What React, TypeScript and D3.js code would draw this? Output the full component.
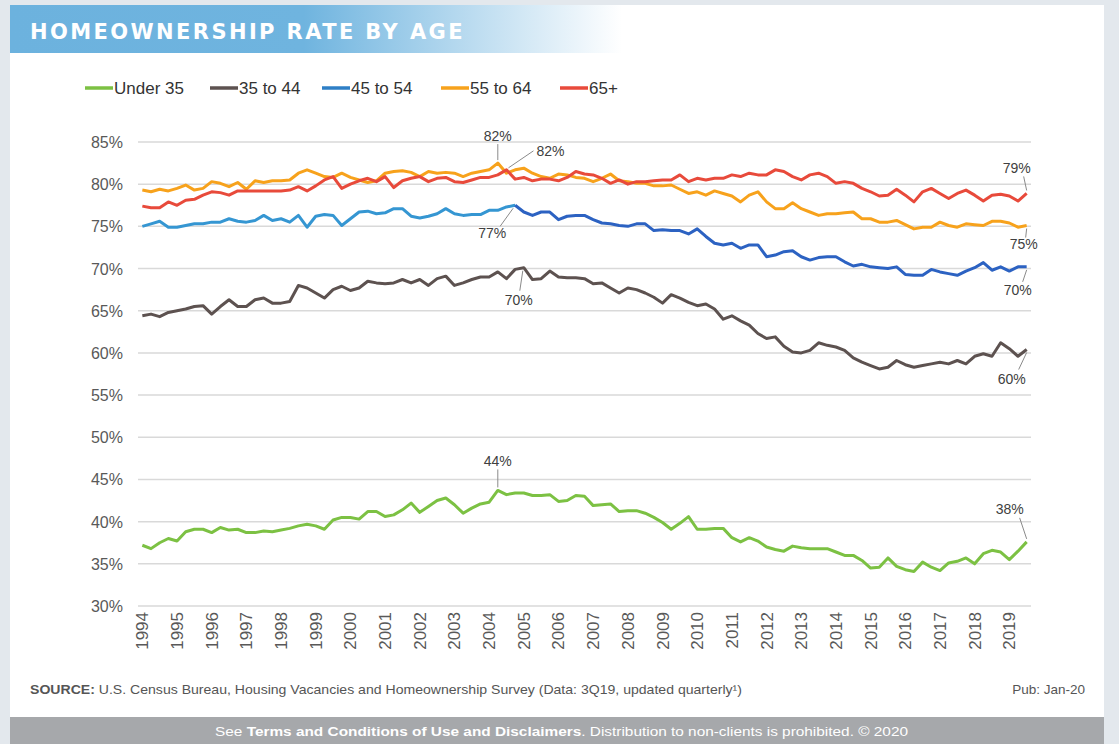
import React from 'react';
import * as d3 from 'd3';

const years = ['1994', '1995', '1996', '1997', '1998', '1999', '2000', '2001', '2002', '2003', '2004', '2005', '2006',
  '2007', '2008', '2009', '2010', '2011', '2012', '2013', '2014', '2015', '2016', '2017', '2018', '2019'];

// quarterly rates, 1994 Q1 .. 2019 Q3
const under35 = [
  37.2, 36.8, 37.5, 38.0, 37.7, 38.8, 39.1, 39.1, 38.7, 39.3,
  39.0, 39.1, 38.7, 38.7, 38.9, 38.8, 39.0, 39.2, 39.5, 39.7,
  39.5, 39.1, 40.2, 40.5, 40.5, 40.3, 41.2, 41.2, 40.6, 40.8,
  41.4, 42.2, 41.1, 41.8, 42.5, 42.8, 42.0, 41.0, 41.6, 42.1,
  42.3, 43.7, 43.2, 43.4, 43.4, 43.1, 43.1, 43.2, 42.4, 42.5,
  43.1, 43.0, 41.9, 42.0, 42.1, 41.2, 41.3, 41.3, 41.0, 40.5,
  39.9, 39.1, 39.8, 40.6, 39.1, 39.1, 39.2, 39.2, 38.1, 37.6,
  38.1, 37.7, 37.0, 36.7, 36.5, 37.1, 36.9, 36.8, 36.8, 36.8,
  36.4, 36.0, 36.0, 35.4, 34.5, 34.6, 35.7, 34.7, 34.3, 34.1,
  35.2, 34.6, 34.2, 35.1, 35.3, 35.7, 35.0, 36.2, 36.6, 36.4,
  35.5, 36.5, 37.6,
];

const age35to44 = [
  64.4, 64.6, 64.3, 64.8, 65.0, 65.2, 65.5, 65.6, 64.6, 65.5,
  66.3, 65.5, 65.5, 66.3, 66.5, 65.9, 65.9, 66.1, 68.0, 67.7,
  67.1, 66.5, 67.5, 67.9, 67.4, 67.7, 68.5, 68.3, 68.2, 68.3,
  68.7, 68.3, 68.7, 68.0, 68.8, 69.1, 68.0, 68.3, 68.7, 69.0,
  69.0, 69.6, 68.8, 69.9, 70.1, 68.7, 68.8, 69.7, 69.0, 68.9,
  68.9, 68.8, 68.2, 68.3, 67.7, 67.1, 67.7, 67.5, 67.1, 66.6,
  65.9, 66.9, 66.5, 66.0, 65.6, 65.8, 65.2, 64.0, 64.4, 63.8,
  63.3, 62.3, 61.7, 61.9, 60.8, 60.1, 60.0, 60.3, 61.2, 60.9,
  60.7, 60.3, 59.4, 58.9, 58.5, 58.1, 58.3, 59.1, 58.6, 58.3,
  58.5, 58.7, 58.9, 58.7, 59.1, 58.7, 59.6, 59.9, 59.6, 61.2,
  60.5, 59.6, 60.4,
];

const age45to54 = [
  75.0, 75.3, 75.6, 74.9, 74.9, 75.1, 75.3, 75.3, 75.5, 75.5,
  75.9, 75.6, 75.5, 75.7, 76.3, 75.7, 75.9, 75.5, 76.3, 74.9,
  76.2, 76.4, 76.3, 75.1, 75.9, 76.7, 76.8, 76.5, 76.6, 77.1,
  77.1, 76.2, 76.0, 76.2, 76.5, 77.1, 76.5, 76.3, 76.4, 76.4,
  76.9, 76.9, 77.3, 77.5, 76.7, 76.3, 76.7, 76.7, 75.8, 76.2,
  76.3, 76.3, 75.8, 75.4, 75.3, 75.1, 75.0, 75.3, 75.3, 74.5,
  74.6, 74.5, 74.5, 74.1, 74.7, 73.8, 73.0, 72.8, 73.0, 72.4,
  72.8, 72.8, 71.4, 71.6, 72.0, 72.1, 71.4, 71.0, 71.3, 71.4,
  71.4, 70.8, 70.3, 70.5, 70.2, 70.1, 70.0, 70.2, 69.3, 69.2,
  69.2, 69.9, 69.6, 69.4, 69.2, 69.7, 70.1, 70.7, 69.8, 70.2,
  69.7, 70.2, 70.2,
];

const age55to64 = [
  79.3, 79.1, 79.4, 79.2, 79.5, 79.9, 79.3, 79.5, 80.3, 80.1,
  79.7, 80.2, 79.4, 80.4, 80.2, 80.4, 80.4, 80.5, 81.3, 81.7,
  81.3, 80.9, 80.8, 81.3, 80.8, 80.5, 80.2, 80.4, 81.3, 81.5,
  81.6, 81.4, 80.9, 81.5, 81.3, 81.4, 81.3, 80.9, 81.3, 81.5,
  81.7, 82.5, 81.3, 81.7, 81.9, 81.3, 80.9, 80.7, 81.2, 81.1,
  80.8, 80.7, 80.3, 80.7, 81.2, 80.4, 80.3, 80.1, 80.1, 79.8,
  79.8, 79.9, 79.4, 78.9, 79.1, 78.7, 79.2, 78.9, 78.6, 77.9,
  78.7, 79.1, 77.9, 77.1, 77.1, 77.8, 77.1, 76.7, 76.3, 76.5,
  76.5, 76.6, 76.7, 75.9, 75.9, 75.5, 75.5, 75.7, 75.2, 74.7,
  74.9, 74.9, 75.5, 75.1, 74.9, 75.3, 75.2, 75.1, 75.6, 75.6,
  75.4, 74.9, 75.1,
];

const age65plus = [
  77.4, 77.2, 77.2, 77.9, 77.5, 78.1, 78.2, 78.7, 79.1, 79.0,
  78.7, 79.2, 79.2, 79.2, 79.2, 79.2, 79.2, 79.3, 79.7, 79.2,
  79.8, 80.5, 80.9, 79.5, 80.0, 80.4, 80.7, 80.3, 80.9, 79.6,
  80.4, 80.7, 80.9, 80.3, 80.7, 80.8, 80.3, 80.2, 80.5, 80.8,
  80.8, 81.1, 81.7, 80.6, 80.8, 80.4, 80.6, 80.6, 80.4, 80.8,
  81.5, 81.2, 81.1, 80.7, 80.1, 80.5, 80.0, 80.3, 80.3, 80.4,
  80.5, 80.5, 81.1, 80.3, 80.7, 80.5, 80.7, 80.7, 81.1, 80.9,
  81.3, 81.1, 81.1, 81.7, 81.5, 80.9, 80.5, 81.1, 81.3, 80.9,
  80.1, 80.3, 80.1, 79.5, 79.1, 78.6, 78.7, 79.4, 78.7, 77.9,
  79.1, 79.5, 78.9, 78.3, 78.9, 79.3, 78.7, 78.0, 78.7, 78.8,
  78.6, 78.0, 78.9,
];

const yTicks = [30, 35, 40, 45, 50, 55, 60, 65, 70, 75, 80, 85];

const series = [
  { key: 'u35', name: 'Under 35', values: under35, color: '#7cc143' },
  { key: 'a35', name: '35 to 44', values: age35to44, color: '#5d5250' },
  { key: 'a45', name: '45 to 54', values: age45to54, color: '#2e7fc6' },
  { key: 'a55', name: '55 to 64', values: age55to64, color: '#f7a21c' },
  { key: 'a65', name: '65+', values: age65plus, color: '#e84a3b' },
];

// callouts: which series, which quarter, text; offsets are layout
const callouts = [
  { key: 'a55', idx: 41, text: '82%', tx: 0, ty: -22, anchor: 'middle', l: [0, -19, 0, -3] },
  { key: 'a65', idx: 42, text: '82%', tx: 30, ty: -14, anchor: 'start', l: [27, -19, 2, -2] },
  { key: 'a45', idx: 43, text: '77%', tx: -23, ty: 33, anchor: 'middle', l: [-15, 21, -2, 3] },
  { key: 'a35', idx: 44, text: '70%', tx: -5, ty: 37, anchor: 'middle', l: [-4, 23, -1, 3] },
  { key: 'u35', idx: 41, text: '44%', tx: 0, ty: -24, anchor: 'middle', l: [0, -21, 0, -3] },
  { key: 'a65', idx: 102, text: '79%', tx: -10, ty: -20, anchor: 'middle', l: [-3, -17, 0, -3] },
  { key: 'a55', idx: 102, text: '75%', tx: -3, ty: 23, anchor: 'middle', l: [0, 3, -1, 12] },
  { key: 'a45', idx: 102, text: '70%', tx: -9, ty: 28, anchor: 'middle', l: [0, 3, -4, 15] },
  { key: 'a35', idx: 102, text: '60%', tx: -15, ty: 34, anchor: 'middle', l: [0, 3, -8, 20] },
  { key: 'u35', idx: 102, text: '38%', tx: -17, ty: -28, anchor: 'middle', l: [-7, -24, 0, -3] },
];

const W = 1119;
const H = 744;
const plot = { left: 138, right: 1031, top: 142, bottom: 606 };
const font = '"Liberation Sans", Arial, sans-serif';
const condensed = '"Liberation Sans Narrow", "Liberation Sans", sans-serif';

export default function App() {
  const idx = d3.range(under35.length);
  const x = d3.scaleBand<number>().domain(idx).range([plot.left, plot.right]);
  const cx = (i: number) => (x(i) as number) + x.bandwidth() / 2;
  const y = d3.scaleLinear().domain([30, 85]).range([plot.bottom, plot.top]);
  const line = d3.line<number>().x((_, i) => cx(i)).y(d => y(d));
  const lineFrom = (start: number) => d3.line<number>().x((_, i) => cx(i + start)).y(d => y(d));

  const legendX = [85, 210, 322, 441, 560];

  return (
    <svg width={W} height={H} style={{ position: 'absolute', left: 0, top: 0, display: 'block' }} fontFamily={font}>
      <defs>
        <linearGradient id="banner" x1="0" x2="1" y1="0" y2="0">
          <stop offset="0%" stopColor="#6cb2de" />
          <stop offset="48%" stopColor="#6fb4df" />
          <stop offset="100%" stopColor="#ffffff" />
        </linearGradient>
      </defs>
      <rect width={W} height={H} fill="#e3e8ed" />
      <rect x={10} y={5} width={1094} height={712} fill="#ffffff" />
      <rect x={10} y={5} width={612} height={48} fill="url(#banner)" />
      <text x={30} y={39} fill="#ffffff" fontSize={21} fontWeight={700} letterSpacing={2.4}
        style={{ fontFamily: '"DejaVu Sans", Verdana, sans-serif' }}>HOMEOWNERSHIP RATE BY AGE</text>

      {series.map((s, i) => (
        <g key={s.key} transform={`translate(${legendX[i]},88)`}>
          <line x1={0} x2={28} y1={0} y2={0} stroke={s.color} strokeWidth={3.5} />
          <text x={29} y={6} fontSize={17} fill="#333">{s.name}</text>
        </g>
      ))}

      {yTicks.map(t => (
        <g key={t}>
          <line x1={plot.left} x2={plot.right} y1={y(t)} y2={y(t)} stroke="#d9d9d9" strokeWidth={1.5} />
          <text x={123} y={y(t) + 6} textAnchor="end" fontSize={16} fill="#595959">{t}%</text>
        </g>
      ))}

      {years.map((yr, i) => (
        <text key={yr} transform={`translate(${cx(i * 4) + 6},612) rotate(-90)`} textAnchor="end"
          fontSize={17} fill="#595959">{yr}</text>
      ))}

      {series.map(s => {
        if (s.key === 'a45') {
          return (
            <g key={s.key}>
              <path d={line(s.values.slice(0, 44)) || ''} fill="none" stroke="#3596d2" strokeWidth={3} strokeLinejoin="round" />
              <path d={lineFrom(43)(s.values.slice(43)) || ''} fill="none" stroke="#2c62c2" strokeWidth={3} strokeLinejoin="round" />
            </g>
          );
        }
        return <path key={s.key} d={line(s.values) || ''} fill="none" stroke={s.color} strokeWidth={3} strokeLinejoin="round" />;
      })}

      {callouts.map((c, k) => {
        const s = series.find(d => d.key === c.key)!;
        const px = cx(c.idx);
        const py = y(s.values[c.idx]);
        return (
          <g key={k}>
            <line x1={px + c.l[0]} y1={py + c.l[1]} x2={px + c.l[2]} y2={py + c.l[3]} stroke="#8a8a8a" strokeWidth={1} />
            <text x={px + c.tx} y={py + c.ty} textAnchor={c.anchor} fontSize={14} fill="#404040">{c.text}</text>
          </g>
        );
      })}

      <text x={30} y={694} fontSize={13.5} fill="#555" fontFamily={condensed} textLength={712} lengthAdjust="spacingAndGlyphs">
        <tspan fontWeight={700}>SOURCE:</tspan> U.S. Census Bureau, Housing Vacancies and Homeownership Survey (Data: 3Q19, updated quarterly¹)
      </text>
      <text x={1085} y={694} fontSize={13.5} fill="#555" textAnchor="end" fontFamily={condensed}>Pub: Jan-20</text>

      <rect x={10} y={717} width={1094} height={27} fill="#a6a8ab" />
      <text x={215} y={736} fontSize={13.5} fill="#ffffff" fontFamily={condensed} textLength={693} lengthAdjust="spacingAndGlyphs">
        See <tspan fontWeight={700}>Terms and Conditions of Use and Disclaimers</tspan>. Distribution to non-clients is prohibited. © 2020
      </text>
    </svg>
  );
}
